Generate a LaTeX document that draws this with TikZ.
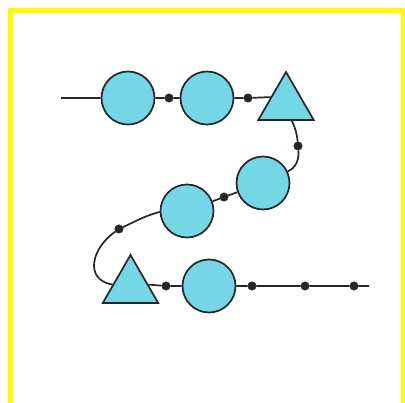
\documentclass[tikz,border=0pt]{standalone}
\usetikzlibrary{shapes.geometric,calc}
\definecolor{bead}{RGB}{116,215,230}
\definecolor{ink}{RGB}{38,38,42}
\definecolor{frameyellow}{RGB}{255,250,0}
\tikzset{
  bigbead/.style={circle,draw=ink,fill=bead,line width=1.7pt,minimum size=53pt,inner sep=0pt},
  tribead/.style={regular polygon,regular polygon sides=3,draw=ink,fill=bead,line width=1.7pt,minimum size=64pt,inner sep=0pt},
  knot/.style={circle,fill=ink,draw=ink,minimum size=8.5pt,inner sep=0pt},
  thread/.style={draw=ink,line width=1.7pt}
}
\begin{document}
\begin{tikzpicture}[x=1pt,y=-1pt]
\useasboundingbox (0,0) rectangle (405,403);
\fill[white] (0,0) rectangle (405,403);
\draw[frameyellow,line width=5pt] (10.5,10.5) rectangle (403,405.5);
% top row
\coordinate (start) at (61,98);
\node[bigbead] (c1) at (128,98) {};
\node[knot] (d1) at (169,98) {};
\node[bigbead] (c2) at (207,98) {};
\node[knot] (d2) at (248,98) {};
\node[tribead] (t1) at (286,104) {};
% middle
\node[knot] (d3) at (298,146) {};
\node[bigbead] (c3) at (263,183) {};
\node[knot] (d4) at (224,197) {};
\node[bigbead] (c4) at (187,211) {};
\node[knot] (d5) at (119,229) {};
% bottom row
\node[tribead] (t2) at (130.5,287) {};
\node[knot] (d6) at (166,286) {};
\node[bigbead] (c5) at (209,286) {};
\node[knot] (d7) at (252,286) {};
\node[knot] (d8) at (305,286) {};
\node[knot] (d9) at (354,286) {};
\coordinate (finish) at (369,286);
% threads
\path[thread] (start) -- (c1) -- (d1) -- (c2) -- (d2) -- ($(t1.corner 1)!0.53!(t1.corner 2)$);
\path[thread] ($(t1.corner 2)!0.6!(t1.corner 3)$) to[out=-65,in=95] (d3) to[out=-85,in=25] (c3.25);
\path[thread] (c3) -- (d4) -- (c4);
\path[thread] (c4.182) to[out=195,in=25] (d5);
\path[thread] (d5) to[out=215,in=170,looseness=1.4] ($(t2.corner 1)!0.62!(t2.corner 2)$);
\path[thread] ($(t2.corner 1)!0.62!(t2.corner 3)$) -- (d6) -- (c5) -- (d7) -- (d8) -- (d9) -- (finish);
\end{tikzpicture}
\end{document}
